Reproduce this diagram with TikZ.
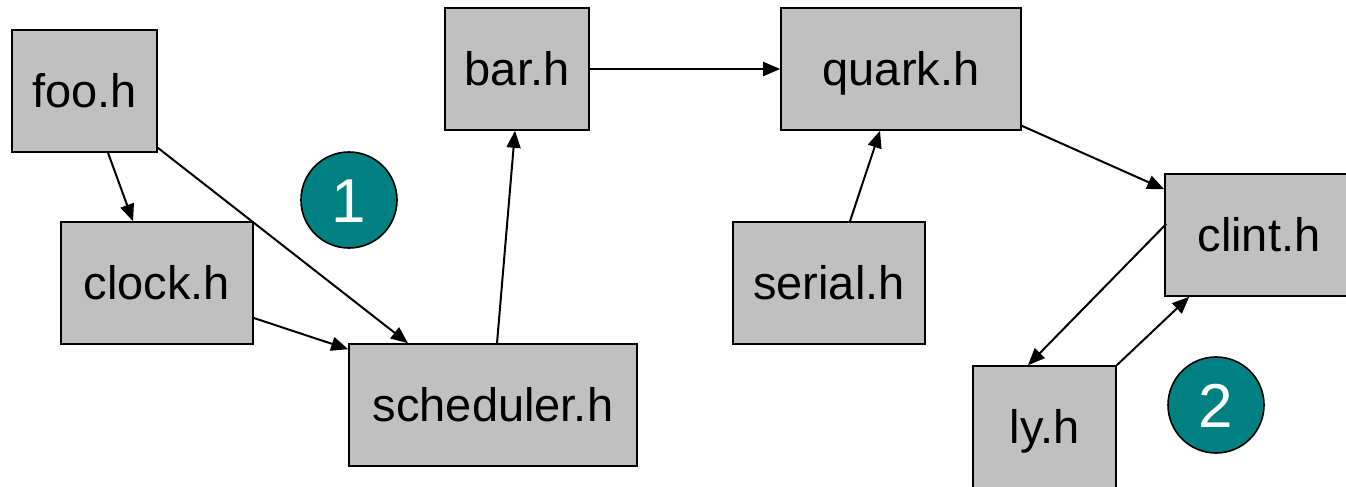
\documentclass[tikz,border=0pt]{standalone}
\usepackage{fontspec}
\setmainfont{Liberation Sans}
\usetikzlibrary{arrows.meta,calc}
\definecolor{boxgray}{RGB}{192,192,192}
\definecolor{tealc}{RGB}{0,128,128}
\begin{document}
\begin{tikzpicture}[x=1pt,y=-1pt,
  hbox/.style={draw=black,line width=1.6pt,fill=boxgray,inner sep=0pt,
    minimum height=122pt,text height=33.6pt,text depth=0pt,
    font=\fontsize{47}{50}\selectfont},
  badge/.style={circle,draw=black,line width=1.6pt,fill=tealc,minimum size=96pt,inner sep=0pt,
    text=white,text height=44.4pt,text depth=0pt,font=\fontsize{62}{66}\selectfont},
  dep/.style={line width=2pt,-{Triangle[length=17pt,width=14pt]}}]
\useasboundingbox (0,0) rectangle (1346,487);
\node[hbox,minimum width=145pt] (foo) at (84.5,91) {foo.h};
\node[hbox,minimum width=192pt] (clock) at (157,283) {clock.h};
\node[hbox,minimum width=288pt] (sched) at (493,405) {scheduler.h};
\node[hbox,minimum width=144pt] (bar) at (517,69) {bar.h};
\node[hbox,minimum width=240pt] (quark) at (901,69) {quark.h};
\node[hbox,minimum width=192pt] (serial) at (829,283) {serial.h};
\node[hbox,minimum width=188pt] (clint) at (1259,235) {clint.h};
\node[hbox,minimum width=143pt] (ly) at (1044.5,427) {ly.h};
\node[badge] (b1) at (349,200) {1};
\node[badge] (b2) at (1216,405) {2};
\draw[dep] ($(foo.south)+(23.5,0)$) -- ($(clock.north)+(-24,0)$);
\draw[dep] ($(foo.south east)+(0,-5)$) -- ($(sched.north)+(-85,0)$);
\draw[dep] ($(clock.east)+(0,35)$) -- ($(sched.north west)+(0,6)$);
\draw[dep] ($(sched.north)+(4,0)$) -- ($(bar.south)+(-2,0)$);
\draw[dep] (bar.east) -- (quark.west);
\draw[dep] ($(serial.north)+(21,0)$) -- ($(quark.south)+(-21,0)$);
\draw[dep] ($(quark.south east)+(0,-5)$) -- ($(clint.north west)+(0,16)$);
\draw[dep] ($(clint.west)+(2,-11)$) -- ($(ly.north)+(-16.5,0)$);
\draw[dep] (ly.north east) -- ($(clint.south west)+(25,0)$);
\end{tikzpicture}
\end{document}
